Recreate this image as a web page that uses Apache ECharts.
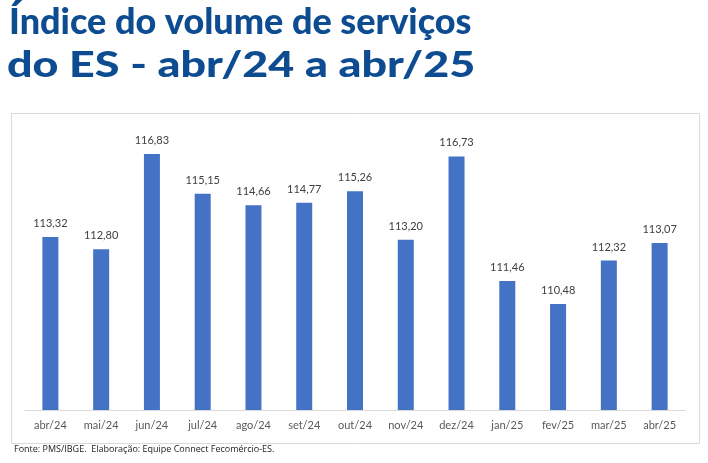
<!DOCTYPE html>
<html><head><meta charset="utf-8">
<script src="https://cdn.jsdelivr.net/npm/echarts@6/dist/echarts.min.js"></script>
<style>html,body{margin:0;padding:0;background:#fff}#c{width:708px;height:463px}</style>
</head><body><div id="c"></div>
<script>
const categories = ['abr/24','mai/24','jun/24','jul/24','ago/24','set/24','out/24','nov/24','dez/24','jan/25','fev/25','mar/25','abr/25'];
const values = [113.32,112.80,116.83,115.15,114.66,114.77,115.26,113.20,116.73,111.46,110.48,112.32,113.07];
const titleLines = ['Índice do volume de serviços','do ES - abr/24 a abr/25'];
const sourceText = 'Fonte: PMS/IBGE.  Elaboração: Equipe Connect Fecomércio-ES.';

const chart = echarts.init(document.getElementById('c'));
chart.setOption({
  animation:false,
  backgroundColor:'#fff',
  graphic:[
    {type:'rect',shape:{x:11.5,y:113.5,width:688,height:330},style:{fill:'none',stroke:'#d9d9d9',lineWidth:1}},
    {type:'text',x:9,y:4,style:{text:titleLines[0],font:'900 36px Lato',fill:'#0E4C92'}},
    {type:'text',x:7,y:47,scaleX:1.245,style:{text:titleLines[1],font:'900 36px Lato',fill:'#0E4C92'}},
    {type:'text',left:14,top:445,style:{text:sourceText,font:'9px "Open Sans"',fill:'#222'}}
  ],
  grid:{left:25,right:23,top:150,bottom:53},
  xAxis:{type:'category',data:categories,
    axisLine:{lineStyle:{color:'#d9d9d9'}},axisTick:{show:false},
    axisLabel:{color:'#595959',fontSize:11,fontFamily:'Lato',margin:10}},
  yAxis:{type:'value',min:106,max:117,show:false,splitLine:{show:false}},
  series:[{type:'bar',data:values,barWidth:16,itemStyle:{color:'#4472C4'},
    label:{show:true,position:'top',distance:8,color:'#404040',fontSize:11,fontFamily:'Lato',
      formatter:p=>p.value.toFixed(2).replace('.',',')}}]
});
</script></body></html>
